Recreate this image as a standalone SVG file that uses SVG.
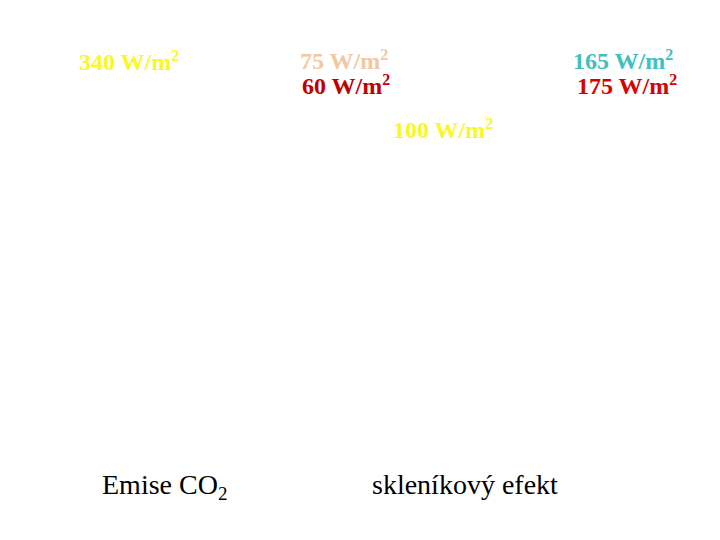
<svg xmlns="http://www.w3.org/2000/svg" width="720" height="540" viewBox="0 0 720 540">
<style>
.v{font-family:"Liberation Serif","Times New Roman",serif;font-weight:bold;font-size:24px}
.l{font-family:"Liberation Serif","Times New Roman",serif;font-size:28px;fill:#000}
.sup{font-size:16px}
</style>
<rect width="720" height="540" fill="#fff"/>
<g id="flux-340"><text class="v" x="79" y="70" fill="#f8f826">340 W/m<tspan class="sup" dy="-9">2</tspan></text></g>
<g id="flux-75"><text class="v" x="300" y="69" fill="#f2c8a0">75 W/m<tspan class="sup" dy="-9">2</tspan></text></g>
<g id="flux-60"><text class="v" x="302" y="94" fill="#c00000">60 W/m<tspan class="sup" dy="-9">2</tspan></text></g>
<g id="flux-165"><text class="v" x="573" y="69" fill="#40c0c0">165 W/m<tspan class="sup" dy="-9">2</tspan></text></g>
<g id="flux-175"><text class="v" x="577" y="94" fill="#d80000">175 W/m<tspan class="sup" dy="-9">2</tspan></text></g>
<g id="flux-100"><text class="v" x="393" y="138" fill="#f8f826">100 W/m<tspan class="sup" dy="-9">2</tspan></text></g>
<g id="emise"><text class="l" x="102" y="494">Emise CO<tspan font-size="19" dy="6">2</tspan></text></g>
<g id="sklenik"><text class="l" x="372" y="494">skleníkový efekt</text></g>
<g id="connectors"></g>
</svg>
